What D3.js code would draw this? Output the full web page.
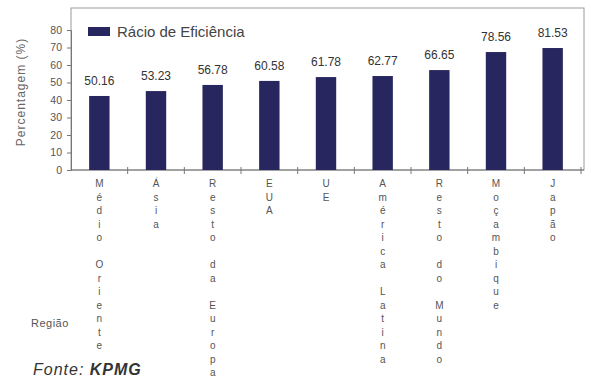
<!DOCTYPE html>
<html><head><meta charset="utf-8">
<script src="https://cdn.jsdelivr.net/npm/d3@7"></script>
<style>body{margin:0;background:#fff;}svg{display:block;font-family:"Liberation Sans",Arial,sans-serif;}</style>
</head><body>
<svg id="c" width="591" height="380"></svg>
<script>
const categories = ["Médio Oriente","Ásia","Resto da Europa","EUA","UE","América Latina","Resto do Mundo","Moçambique","Japão"];
const values = [42.3, 45.1, 48.6, 50.9, 53.1, 53.7, 57.1, 67.4, 69.7];
const valueLabels = ["50.16","53.23","56.78","60.58","61.78","62.77","66.65","78.56","81.53"];
const yTicks = [0,10,20,30,40,50,60,70,80];
const seriesName = "Rácio de Eficiência";

const svg = d3.select("#c");
const mLeft = 71, mRight = 581, mTop = 8, mBottom = 170, frameRight = 584;
const x = d3.scaleBand().domain(categories).range([mLeft, mRight]).paddingInner(0.64).paddingOuter(0.32);
const y = d3.scaleLinear().domain([0, 80]).range([mBottom, 30]);
const barColor = "#27265f";

// frame
svg.append("rect").attr("x", mLeft).attr("y", mTop).attr("width", frameRight - mLeft).attr("height", mBottom - mTop)
  .attr("fill", "none").attr("stroke", "#9a9a9a").attr("stroke-width", 1);

// y axis
const ya = svg.append("g").attr("transform", `translate(${mLeft},0)`)
  .call(d3.axisLeft(y).tickValues(yTicks).tickSize(4).tickPadding(5));
ya.select(".domain").attr("stroke", "#777");
ya.selectAll(".tick line").attr("stroke", "#777");
ya.selectAll("text").attr("fill", "#555").style("font-size", "10.5px");

// x axis ticks at band boundaries
const step = x.step();
const bounds = categories.map(c => x(c) - (step - x.bandwidth()) / 2 + step);
svg.append("line").attr("x1", mLeft).attr("x2", frameRight).attr("y1", mBottom).attr("y2", mBottom).attr("stroke", "#777");
svg.append("g").selectAll("line").data(bounds).join("line")
  .attr("x1", d => d).attr("x2", d => d).attr("y1", mBottom - 3).attr("y2", mBottom + 4).attr("stroke", "#777");

// bars
svg.append("g").selectAll("rect").data(categories).join("rect")
  .attr("x", d => x(d)).attr("width", x.bandwidth())
  .attr("y", (d, i) => y(values[i])).attr("height", (d, i) => mBottom - y(values[i]))
  .attr("fill", barColor);

// value labels
svg.append("g").selectAll("text").data(categories).join("text")
  .attr("x", d => x(d) + x.bandwidth() / 2).attr("y", (d, i) => y(values[i]) - 11)
  .attr("text-anchor", "middle").attr("fill", "#333").style("font-size", "12px")
  .text((d, i) => valueLabels[i]);

// category labels, stacked letters
const lineH = 13.5;
const cg = svg.append("g");
categories.forEach(c => {
  const t = cg.append("text").attr("text-anchor", "middle").attr("fill", "#555").style("font-size", "10px");
  Array.from(c).forEach((ch, j) => {
    t.append("tspan").attr("x", x(c) + x.bandwidth() / 2).attr("y", 187 + j * lineH).text(ch === " " ? "\u00a0" : ch);
  });
});

// legend
svg.append("rect").attr("x", 88).attr("y", 27).attr("width", 22).attr("height", 9).attr("fill", barColor);
svg.append("text").attr("x", 117).attr("y", 37).attr("fill", "#444").style("font-size", "15px").text(seriesName);

// y axis title
svg.append("text").attr("transform", "translate(25,92) rotate(-90)").attr("text-anchor", "middle")
  .attr("fill", "#666").style("font-size", "12px").style("letter-spacing", "1px").text("Percentagem (%)");

// region label and source
svg.append("text").attr("x", 31).attr("y", 327).attr("fill", "#555").style("font-size", "11px").style("letter-spacing", "0.5px").text("Região");
svg.append("text").attr("x", 33).attr("y", 375).attr("fill", "#333").style("font-size", "16px").style("font-style", "italic").style("letter-spacing", "1px")
  .html('Fonte: <tspan font-weight="bold">KPMG</tspan>');
</script>
</body></html>
